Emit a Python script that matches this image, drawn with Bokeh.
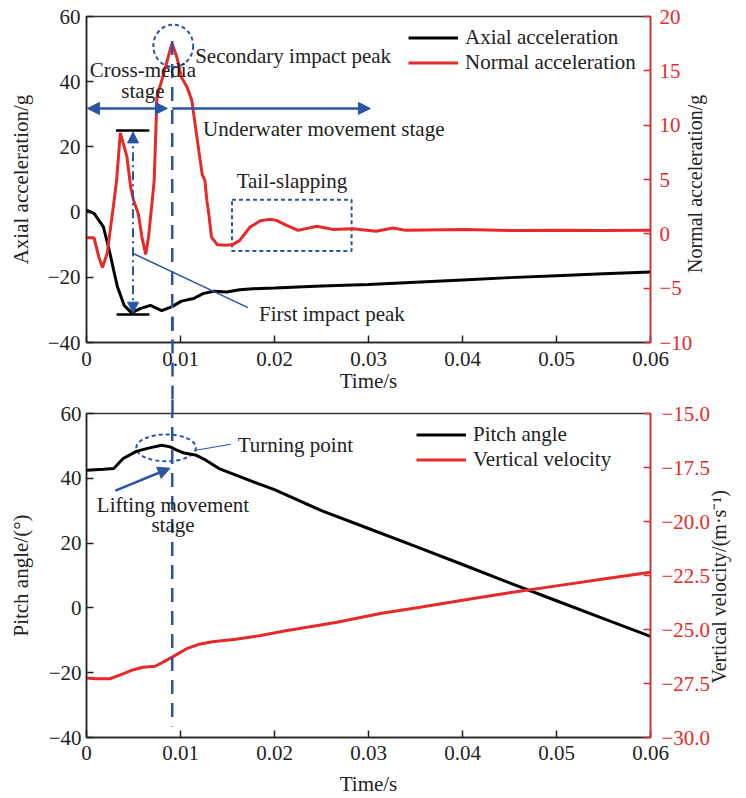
import math
from bokeh.plotting import figure
from bokeh.layouts import column
from bokeh.models import (Range1d, LinearAxis, FixedTicker, Legend, LegendItem,
                          Arrow, NormalHead, Label)
from bokeh.embed import file_html
from bokeh.resources import INLINE

# ---------------- data ----------------
# top panel: axial acceleration (left axis, g)
axial_t = [0, 0.0008, 0.0018, 0.0025, 0.0029, 0.0033, 0.004, 0.0048, 0.0057, 0.0068,
           0.008, 0.0091, 0.0101, 0.0114, 0.0124, 0.0135, 0.0149, 0.0163, 0.0177,
           0.02, 0.025, 0.03, 0.035, 0.04, 0.045, 0.05, 0.055, 0.06]
axial_g = [0.6, -0.4, -4.5, -12.7, -18.0, -23.0, -28.6, -30.9, -29.6, -28.6,
           -30.2, -29.0, -27.3, -26.5, -25.0, -24.3, -24.5, -23.8, -23.5,
           -23.3, -22.7, -22.2, -21.5, -20.8, -20.1, -19.5, -18.9, -18.4]
# top panel: normal acceleration (right axis, g)
normal_t = [0, 0.0008, 0.0013, 0.0017, 0.0022, 0.0029, 0.0032, 0.0036, 0.0043, 0.0047,
            0.0050, 0.0055, 0.0059, 0.0063, 0.0066, 0.0070, 0.0072, 0.0075, 0.0082,
            0.0087, 0.0091, 0.0096, 0.0101, 0.0107, 0.0112, 0.0117, 0.0123, 0.0126,
            0.0128, 0.0130, 0.0133, 0.0139, 0.0149, 0.0156, 0.0163, 0.0174, 0.0185,
            0.0195, 0.0202, 0.0213, 0.0225, 0.0245, 0.0262, 0.0283, 0.0308, 0.0326,
            0.034, 0.0402, 0.0453, 0.05, 0.055, 0.06]
normal_g = [-0.35, -0.35, -2.1, -3.1, -1.8, 2.8, 4.9, 9.3, 7.1, 4.3,
            3.1, 1.9, -0.3, -1.9, -0.3, 3.1, 4.9, 12.6, 14.7,
            16.3, 17.55, 16.3, 14.4, 13.5, 12.3, 9.2, 5.5, 4.9,
            3.1, 1.9, -0.3, -1.0, -1.06, -0.97, -0.6, 0.63, 1.2,
            1.33, 1.24, 0.78, 0.32, 0.69, 0.41, 0.47, 0.23, 0.53,
            0.32, 0.4, 0.3, 0.33, 0.3, 0.32]
# bottom panel: pitch angle (left axis, deg)
pitch_t = [0, 0.0018, 0.0029, 0.0039, 0.0053, 0.0067, 0.008, 0.0089, 0.0096, 0.0104,
           0.0117, 0.0127, 0.0141, 0.0159, 0.0184, 0.02, 0.025, 0.03, 0.035, 0.04,
           0.045, 0.05, 0.055, 0.06]
pitch_deg = [42.5, 42.8, 43.0, 46.1, 48.3, 49.4, 50.2, 49.7, 48.7, 47.8,
             47.1, 45.6, 43.0, 41.0, 38.2, 36.5, 30.0, 24.5, 19.0, 13.4,
             7.7, 2.2, -3.3, -8.8]
# bottom panel: vertical velocity (right axis, m/s)
vel_t = [0, 0.001, 0.0025, 0.0036, 0.005, 0.006, 0.0073, 0.0081, 0.0094, 0.0106,
         0.012, 0.0134, 0.0159, 0.0184, 0.0212, 0.0265, 0.0314, 0.035, 0.04, 0.045,
         0.05, 0.055, 0.06]
vel_ms = [-27.25, -27.28, -27.28, -27.1, -26.86, -26.75, -26.7, -26.52, -26.21, -25.9,
          -25.68, -25.57, -25.45, -25.29, -25.06, -24.68, -24.25, -24.0, -23.65, -23.3,
          -22.98, -22.66, -22.35]

# ticks and labels
x_ticks = [0, 0.01, 0.02, 0.03, 0.04, 0.05, 0.06]
x_tick_labels = ["0", "0.01", "0.02", "0.03", "0.04", "0.05", "0.06"]
acc_ticks = [-40, -20, 0, 20, 40, 60]
acc_tick_labels = ["−40", "−20", "0", "20", "40", "60"]
norm_ticks = [-10, -5, 0, 5, 10, 15, 20]
norm_tick_labels = ["−10", "−5", "0", "5", "10", "15", "20"]
pitch_ticks = [-40, -20, 0, 20, 40, 60]
pitch_tick_labels = ["−40", "−20", "0", "20", "40", "60"]
vel_ticks = [-30.0, -27.5, -25.0, -22.5, -20.0, -17.5, -15.0]
vel_tick_labels = ["−30.0", "−27.5", "−25.0", "−22.5", "−20.0", "−17.5", "−15.0"]
# time of the dashed stage separator
t_sep = 0.00912

# ---------------- style ----------------
FONT = "Liberation Serif"
FS = "21px"
RED = "#e62a2a"
BLUE = "#2b55a3"
TXT = "#222222"


def style_axis(ax, ticks, labels, color="#222222"):
    ax.ticker = FixedTicker(ticks=ticks)
    ax.major_label_overrides = {t: l for t, l in zip(ticks, labels)}
    ax.minor_tick_line_color = None
    ax.major_tick_in = 7
    ax.major_tick_out = 0
    ax.axis_line_color = color
    ax.axis_line_width = 1.5
    ax.major_tick_line_color = color
    ax.major_tick_line_width = 1.5
    ax.major_label_text_font = FONT
    ax.major_label_text_font_size = FS
    ax.major_label_text_color = color if color != "#222222" else TXT
    ax.axis_label_text_font = FONT
    ax.axis_label_text_font_size = FS
    ax.axis_label_text_font_style = "normal"
    ax.axis_label_text_color = TXT


def sep_axis(tick_in, tick_out):
    # an unlabeled axis whose single tick draws the dashed separator outside the frame
    return LinearAxis(ticker=FixedTicker(ticks=[t_sep]), axis_line_color=None,
                      minor_tick_line_color=None, major_tick_in=tick_in,
                      major_tick_out=tick_out, major_tick_line_color=BLUE,
                      major_tick_line_width=2.5, major_tick_line_dash="14 9",
                      major_label_text_font_size="0px", major_label_standoff=0,
                      major_label_text_alpha=0)


def title_axis(text, range_name, start_value, standoff):
    # a line-less right axis whose single tick label is the bottom-to-top axis title
    return LinearAxis(y_range_name=range_name, ticker=FixedTicker(ticks=[start_value]),
                      major_label_overrides={start_value: text},
                      major_label_orientation=math.pi / 2, axis_line_color=None,
                      major_tick_line_color=None, minor_tick_line_color=None,
                      major_tick_in=0, major_tick_out=0, major_label_standoff=standoff,
                      major_label_text_font=FONT, major_label_text_font_size="20px",
                      major_label_text_color=TXT)


def label(p, x, y, text, align="left", angle=0.0):
    p.add_layout(Label(x=x, y=y, text=text, text_font=FONT, text_font_size=FS,
                       text_color=TXT, text_align=align, text_baseline="middle",
                       angle=angle))


# ================= top panel =================
p1 = figure(width=746, height=399, x_range=Range1d(0, 0.06), y_range=Range1d(-40, 60),
            output_backend="svg", toolbar_location=None,
            min_border_left=86, min_border_right=94, min_border_top=16, min_border_bottom=57)
p1.extra_y_ranges = {"right": Range1d(-10, 20)}
p1.grid.visible = False
p1.outline_line_color = "#333333"
p1.outline_line_width = 1.5
p1.background_fill_color = "white"

style_axis(p1.xaxis[0], x_ticks, x_tick_labels)
p1.xaxis[0].axis_label = "Time/s"
p1.xaxis[0].major_label_standoff = 9
p1.xaxis[0].axis_label_standoff = 0
style_axis(p1.yaxis[0], acc_ticks, acc_tick_labels)
p1.yaxis[0].axis_label = "Axial acceleration/g"
p1.yaxis[0].major_label_standoff = 6
p1.yaxis[0].axis_label_standoff = 12

ax1r = LinearAxis(y_range_name="right")
style_axis(ax1r, norm_ticks, norm_tick_labels, color=RED)
ax1r.major_label_standoff = 9
p1.add_layout(ax1r, "right")
p1.add_layout(title_axis("Normal acceleration/g", "right", -3.6, 0), "right")
p1.add_layout(sep_axis(80, 4), "below")

# annotations (behind the data)
p1.quad(left=[0.01548], right=[0.0282], top=[3.8], bottom=[-11.9], fill_alpha=0,
        line_color=BLUE, line_width=2, line_dash="4 3")
p1.ellipse(x=[0.00923], y=[51.0], width=[0.00424], height=[13.0], fill_alpha=0,
           line_color=BLUE, line_width=2, line_dash="4 3")
p1.segment(x0=[0.00314, 0.0032], y0=[25.0, -31.4], x1=[0.00668, 0.0067], y1=[25.0, -31.4],
           line_color="black", line_width=2.5)

r_ax = p1.line(axial_t, axial_g, line_color="black", line_width=3)
r_no = p1.line(normal_t, normal_g, line_color=RED, line_width=3, y_range_name="right")

# dashed separator line (continues into lower panel)
p1.add_layout(Arrow(x_start=t_sep, y_start=52.5, x_end=t_sep, y_end=-60, end=None,
                    line_color=BLUE, line_width=2.5, line_dash="14 9"))
# stage arrows
p1.add_layout(Arrow(x_start=0.0086, y_start=31.8, x_end=0.0001, y_end=31.8,
                    start=NormalHead(size=12, fill_color=BLUE, line_color=BLUE),
                    end=NormalHead(size=12, fill_color=BLUE, line_color=BLUE),
                    line_color=BLUE, line_width=2.5))
p1.add_layout(Arrow(x_start=t_sep, y_start=31.8, x_end=0.0302, y_end=31.8,
                    end=NormalHead(size=12, fill_color=BLUE, line_color=BLUE),
                    line_color=BLUE, line_width=2.5))
# dash-dot double arrow for first impact peak
p1.add_layout(Arrow(x_start=0.00495, y_start=-31.0, x_end=0.00495, y_end=24.6,
                    start=NormalHead(size=11, fill_color=BLUE, line_color=BLUE),
                    end=NormalHead(size=11, fill_color=BLUE, line_color=BLUE),
                    line_color=BLUE, line_width=2, line_dash="9 4 2 4"))
# leader line to "First impact peak"
p1.add_layout(Arrow(x_start=0.00498, y_start=-12.7, x_end=0.01718, y_end=-29.3, end=None,
                    line_color=BLUE, line_width=1.5))

label(p1, 0.0060, 43.5, "Cross-media", "center")
label(p1, 0.0060, 37.0, "stage", "center")
label(p1, 0.01156, 47.9, "Secondary impact peak")
label(p1, 0.0124, 25.6, "Underwater movement stage")
label(p1, 0.02185, 9.4, "Tail-slapping", "center")
label(p1, 0.01835, -31.3, "First impact peak")

leg1 = Legend(items=[LegendItem(label="Axial acceleration", renderers=[r_ax]),
                     LegendItem(label="Normal acceleration", renderers=[r_no])],
              location=(322, 267), padding=0, margin=0, spacing=0,
              glyph_width=50, glyph_height=25, label_height=25, label_standoff=7,
              label_text_font=FONT, label_text_font_size=FS, label_text_color=TXT,
              border_line_alpha=0, background_fill_alpha=0)
p1.add_layout(leg1)

# ================= bottom panel =================
p2 = figure(width=746, height=399, x_range=Range1d(0, 0.06), y_range=Range1d(-40, 60),
            output_backend="svg", toolbar_location=None,
            min_border_left=83, min_border_right=96, min_border_top=14, min_border_bottom=59)
p2.extra_y_ranges = {"right": Range1d(-30, -15)}
p2.grid.visible = False
p2.outline_line_color = "#333333"
p2.outline_line_width = 1.5

style_axis(p2.xaxis[0], x_ticks, x_tick_labels)
p2.xaxis[0].axis_label = "Time/s"
p2.xaxis[0].major_label_standoff = 8
p2.xaxis[0].axis_label_standoff = 9
style_axis(p2.yaxis[0], pitch_ticks, pitch_tick_labels)
p2.yaxis[0].axis_label = "Pitch angle/(°)"
p2.yaxis[0].major_label_standoff = 5
p2.yaxis[0].axis_label_standoff = 13

ax2r = LinearAxis(y_range_name="right")
style_axis(ax2r, vel_ticks, vel_tick_labels, color=RED)
ax2r.major_label_standoff = 11
p2.add_layout(ax2r, "right")
p2.add_layout(title_axis("Vertical velocity/(m·s⁻¹)", "right", -27.5, 5), "right")
p2.add_layout(sep_axis(0, 14), "above")

p2.ellipse(x=[0.00847], y=[49.4], width=[0.00635], height=[8.3], fill_alpha=0,
           line_color=BLUE, line_width=2, line_dash="4 3")

r_pi = p2.line(pitch_t, pitch_deg, line_color="black", line_width=3)
r_ve = p2.line(vel_t, vel_ms, line_color=RED, line_width=3, y_range_name="right")

p2.add_layout(Arrow(x_start=t_sep, y_start=70, x_end=t_sep, y_end=-36.6, end=None,
                    line_color=BLUE, line_width=2.5, line_dash="14 9"))
p2.add_layout(Arrow(x_start=0.01164, y_start=48.65, x_end=0.01534, y_end=50.5, end=None,
                    line_color=BLUE, line_width=1.2))
p2.add_layout(Arrow(x_start=0.00307, y_start=36.2, x_end=0.00889, y_end=43.1,
                    end=NormalHead(size=12, fill_color=BLUE, line_color=BLUE),
                    line_color=BLUE, line_width=2.5))

label(p2, 0.01608, 50.2, "Turning point")
label(p2, 0.0092, 31.8, "Lifting movement", "center")
label(p2, 0.0092, 25.6, "stage", "center")

leg2 = Legend(items=[LegendItem(label="Pitch angle", renderers=[r_pi]),
                     LegendItem(label="Vertical velocity", renderers=[r_ve])],
              location=(330, 265), padding=0, margin=0, spacing=0,
              glyph_width=50, glyph_height=25, label_height=25, label_standoff=7,
              label_text_font=FONT, label_text_font_size=FS, label_text_color=TXT,
              border_line_alpha=0, background_fill_alpha=0)
p2.add_layout(leg2)

layout = column(p1, p2, spacing=0)
open("out.html", "w").write(file_html(layout, INLINE))
